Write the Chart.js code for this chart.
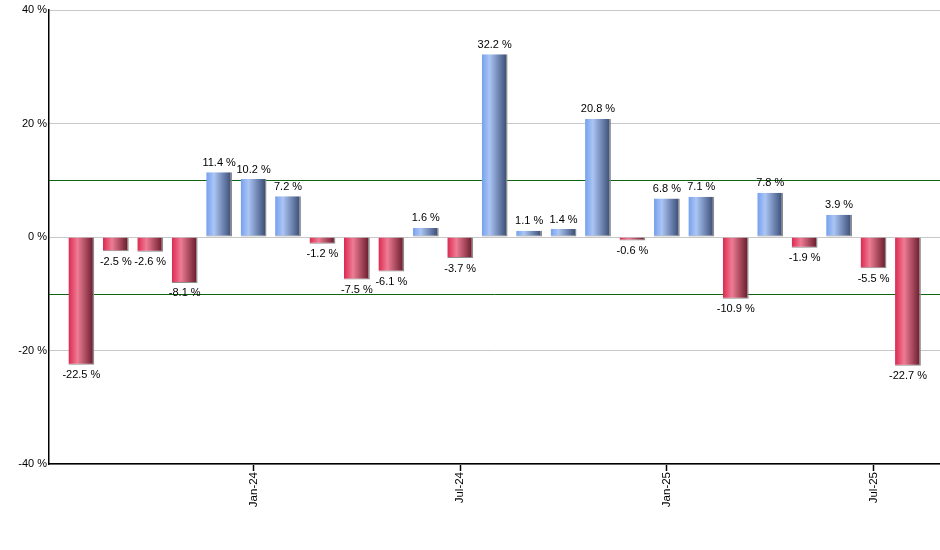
<!DOCTYPE html>
<html>
<head>
<meta charset="utf-8">
<script src="https://cdn.jsdelivr.net/npm/chart.js"></script>
<style>
  html, body { margin: 0; padding: 0; background: #fff; }
  #wrap { width: 940px; height: 550px; }
</style>
</head>
<body>
<div id="wrap"><canvas id="chart" width="940" height="550"></canvas></div>
<script>
// monthly returns, Aug-23 .. Aug-25
const months = ['Aug-23', 'Sep-23', 'Oct-23', 'Nov-23', 'Dec-23',
    'Jan-24', 'Feb-24', 'Mar-24', 'Apr-24', 'May-24', 'Jun-24', 'Jul-24',
    'Aug-24', 'Sep-24', 'Oct-24', 'Nov-24', 'Dec-24',
    'Jan-25', 'Feb-25', 'Mar-25', 'Apr-25', 'May-25', 'Jun-25', 'Jul-25', 'Aug-25'];
const returns = [-22.5, -2.5, -2.6, -8.1, 11.4,
    10.2, 7.2, -1.2, -7.5, -6.1, 1.6, -3.7,
    32.2, 1.1, 1.4, 20.8, -0.6,
    6.8, 7.1, -10.9, 7.8, -1.9, 3.9, -5.5, -22.7];
const tickMonths = ['Jan-24', 'Jul-24', 'Jan-25', 'Jul-25'];
const yTicks = [-40, -20, 0, 20, 40];
const refLines = [10, -10];

const FONT = { family: '"Liberation Sans", Arial, sans-serif', size: 11 };
const BAR_PCT = 0.75;

const barFill = (c) => {
    const chart = c.chart;
    const xs = chart.scales.x;
    const pos = returns[c.dataIndex] >= 0;
    const fallback = pos ? '#7f9bd0' : '#b83050';
    if (!xs || c.type !== 'data') return fallback;
    const step = xs.getPixelForValue(1) - xs.getPixelForValue(0);
    const cx = xs.getPixelForValue(c.dataIndex);
    if (!Number.isFinite(step) || !Number.isFinite(cx)) return fallback;
    const w = step * BAR_PCT;
    const g = chart.ctx.createLinearGradient(cx - w / 2, 0, cx + w / 2, 0);
    if (pos) {
        g.addColorStop(0, '#74a0ee');
        g.addColorStop(0.3, '#abc5f5');
        g.addColorStop(1, '#34476e');
    } else {
        g.addColorStop(0, '#dc2850');
        g.addColorStop(0.35, '#ee7c94');
        g.addColorStop(1, '#621626');
    }
    return g;
};

const refLinePlugin = {
    id: 'refLines',
    beforeDatasetsDraw(chart) {
        const { ctx, chartArea, scales } = chart;
        ctx.save();
        ctx.strokeStyle = '#0f640f';
        ctx.lineWidth = 1;
        refLines.forEach(v => {
            const y = Math.round(scales.y.getPixelForValue(v)) + 0.5;
            ctx.beginPath();
            ctx.moveTo(chartArea.left, y);
            ctx.lineTo(chartArea.right, y);
            ctx.stroke();
        });
        ctx.restore();
    }
};

const valueLabelPlugin = {
    id: 'valueLabels',
    afterDatasetsDraw(chart) {
        const { ctx } = chart;
        const meta = chart.getDatasetMeta(0);
        ctx.save();
        ctx.font = `${FONT.size}px ${FONT.family}`;
        ctx.fillStyle = '#000';
        ctx.textAlign = 'center';
        meta.data.forEach((bar, i) => {
            const v = returns[i];
            const txt = v.toFixed(1) + ' %';
            if (v >= 0) {
                ctx.textBaseline = 'bottom';
                ctx.fillText(txt, bar.x, bar.y - 4);
            } else {
                ctx.textBaseline = 'top';
                ctx.fillText(txt, bar.x, bar.y + 5);
            }
        });
        ctx.restore();
    }
};

new Chart(document.getElementById('chart'), {
    type: 'bar',
    data: {
        datasets: [{
            data: returns.map((v, i) => ({ x: i, y: v })),
            backgroundColor: barFill,
            borderColor: '#8c8c8c',
            borderWidth: { right: 1.5, bottom: 1, top: 0, left: 0 },
            borderSkipped: false,
            barPercentage: BAR_PCT,
            categoryPercentage: 1
        }]
    },
    options: {
        responsive: false,
        animation: false,
        layout: { padding: { top: 10, right: 0, bottom: 0, left: 0 } },
        plugins: {
            legend: { display: false },
            tooltip: { enabled: false }
        },
        scales: {
            x: {
                type: 'linear',
                offset: false,
                min: -0.94,
                max: 24.93,
                afterBuildTicks: (s) => {
                    s.ticks = tickMonths.map(m => ({ value: months.indexOf(m) }));
                },
                afterFit: (s) => { s.height = 86; },
                ticks: {
                    autoSkip: false,
                    minRotation: 90,
                    maxRotation: 90,
                    padding: 1,
                    color: '#000',
                    font: { family: FONT.family, size: 11.5 },
                    callback: (v) => months[v]
                },
                grid: {
                    offset: false,
                    drawOnChartArea: false,
                    drawTicks: true,
                    tickLength: 7,
                    tickColor: '#000',
                    tickWidth: 1.5
                },
                border: { color: '#000', width: 1.5 }
            },
            y: {
                min: -40,
                max: 40,
                afterBuildTicks: (s) => {
                    s.ticks = yTicks.map(v => ({ value: v }));
                },
                afterFit: (s) => { s.width = 49; },
                ticks: {
                    padding: 2,
                    color: '#000',
                    font: FONT,
                    callback: (v) => v + ' %'
                },
                grid: {
                    color: '#c8c8c8',
                    lineWidth: 1,
                    drawTicks: false
                },
                border: { color: '#000', width: 1.5 }
            }
        }
    },
    plugins: [refLinePlugin, valueLabelPlugin]
});
</script>
</body>
</html>
